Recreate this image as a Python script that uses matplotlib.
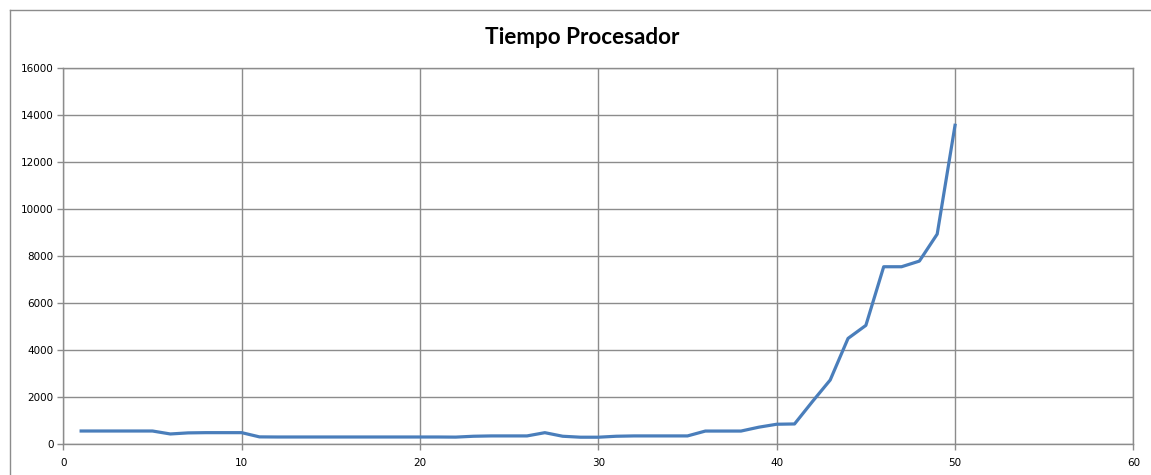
import matplotlib.pyplot as plt
from matplotlib.lines import Line2D

# Datos
x_vals = list(range(1, 51))
tiempo = [540, 540, 540, 540, 540, 414, 460, 470, 470, 470,
          290, 285, 285, 285, 285, 285, 285, 285, 285, 285,
          285, 280, 317, 331, 331, 331, 469, 317, 276, 276,
          317, 331, 331, 331, 331, 538, 538, 538, 703, 828,
          840, 1790, 2710, 4480, 5035, 7530, 7530, 7770, 8920, 13550]

x_ticks = [0, 10, 20, 30, 40, 50, 60]
y_ticks = list(range(0, 16001, 2000))

grid_col = "#8c8c8c"

fig = plt.figure(figsize=(11.51, 4.75), dpi=100)
ax = fig.add_axes([0.055, 0.0659, 0.9297, 0.7916])

ax.plot(x_vals, tiempo, color="#4a7ebb", linewidth=2.3, solid_joinstyle="round")

ax.set_xlim(0, 60)
ax.set_ylim(0, 16000)
ax.set_xticks(x_ticks)
ax.set_yticks(y_ticks)
ax.grid(True, color=grid_col, linewidth=1.0)
ax.set_axisbelow(True)
for s in ax.spines.values():
    s.set_color(grid_col)
    s.set_linewidth(1.0)
ax.tick_params(colors=grid_col, labelcolor="black", labelsize=7.5, length=4, width=1.0, pad=3)
ax.tick_params(axis="x", pad=6)

fig.text(0.506, 0.922, "Tiempo Procesador", fontsize=16.2, fontweight="bold",
         family="Lato", ha="center", va="center")

# borde del área del gráfico (arriba e izquierda)
fig.add_artist(Line2D([10 / 1151, 1.0], [1 - 10 / 475, 1 - 10 / 475],
                      color=grid_col, linewidth=1.0, transform=fig.transFigure))
fig.add_artist(Line2D([10 / 1151, 10 / 1151], [0, 1 - 10 / 475],
                      color=grid_col, linewidth=1.0, transform=fig.transFigure))

plt.savefig("out.png", dpi=100)
